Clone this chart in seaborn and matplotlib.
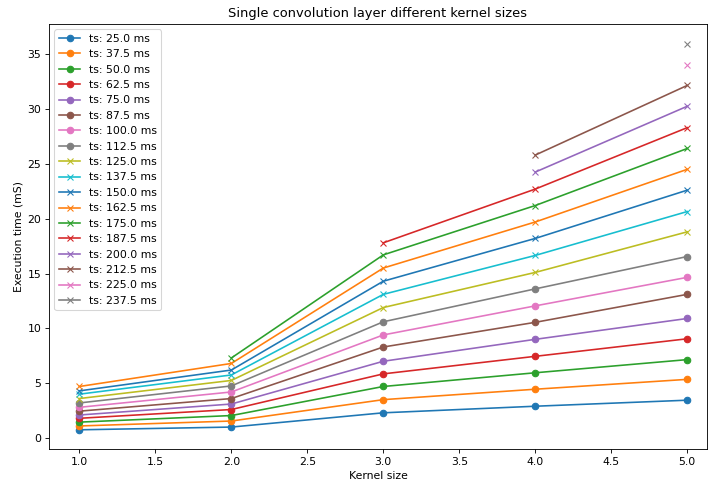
import numpy as np
import pandas as pd
import seaborn as sns
import matplotlib.pyplot as plt

# time steps (ms) of each series
time_steps = [25.0, 37.5, 50.0, 62.5, 75.0, 87.5, 100.0, 112.5, 125.0,
              137.5, 150.0, 162.5, 175.0, 187.5, 200.0, 212.5, 225.0, 237.5]
kernel_sizes = [1, 2, 3, 4, 5]

# execution time (mS) per kernel size, one value per time step (nan = not measured)
nan = np.nan
exec_k1 = [0.75, 1.1, 1.45, 1.8, 2.1, 2.45, 2.8, 3.2, 3.6, 4.0, 4.3, 4.7,
           nan, nan, nan, nan, nan, nan]
exec_k2 = [1.0, 1.55, 2.05, 2.6, 3.1, 3.6, 4.2, 4.75, 5.25, 5.75, 6.2, 6.8,
           7.3, nan, nan, nan, nan, nan]
exec_k3 = [2.3, 3.5, 4.7, 5.85, 7.0, 8.3, 9.4, 10.6, 11.9, 13.1, 14.3, 15.5,
           16.7, 17.8, nan, nan, nan, nan]
exec_k4 = [2.9, 4.45, 5.95, 7.45, 9.0, 10.55, 12.05, 13.6, 15.1, 16.65, 18.2, 19.7,
           21.2, 22.7, 24.25, 25.8, nan, nan]
exec_k5 = [3.45, 5.35, 7.15, 9.05, 10.9, 13.1, 14.65, 16.55, 18.8, 20.65, 22.6, 24.5,
           26.4, 28.3, 30.25, 32.15, 34.05, 35.95]

rows = []
for k, vals in zip(kernel_sizes, [exec_k1, exec_k2, exec_k3, exec_k4, exec_k5]):
    for ts, v in zip(time_steps, vals):
        rows.append({'kernel': k, 'ts': ts, 'time': v})
df = pd.DataFrame(rows).dropna()

colors = plt.rcParams['axes.prop_cycle'].by_key()['color']

dpi = 78
fig, ax = plt.subplots(figsize=(710 / dpi, 483 / dpi), dpi=dpi)
for i, ts in enumerate(time_steps):
    sub = df[df['ts'] == ts]
    c = colors[i % len(colors)]
    marker = 'o' if ts < 120 else 'x'
    sns.lineplot(data=sub, x='kernel', y='time', ax=ax, color=c, marker=marker,
                 markeredgecolor=c, markeredgewidth=1.0, markersize=6,
                 linewidth=1.5, label=f'ts: {ts} ms')

ax.set_title('Single convolution layer different kernel sizes')
ax.set_xlabel('Kernel size')
ax.set_ylabel('Execution time (mS)')
ax.set_xlim(0.8, 5.13)
ax.set_ylim(-1.0, 37.75)
ax.legend(loc='upper left')
fig.subplots_adjust(left=49 / 710, right=707 / 710, bottom=1 - 449 / 483, top=1 - 24 / 483)
plt.savefig('out.png', dpi=dpi)
